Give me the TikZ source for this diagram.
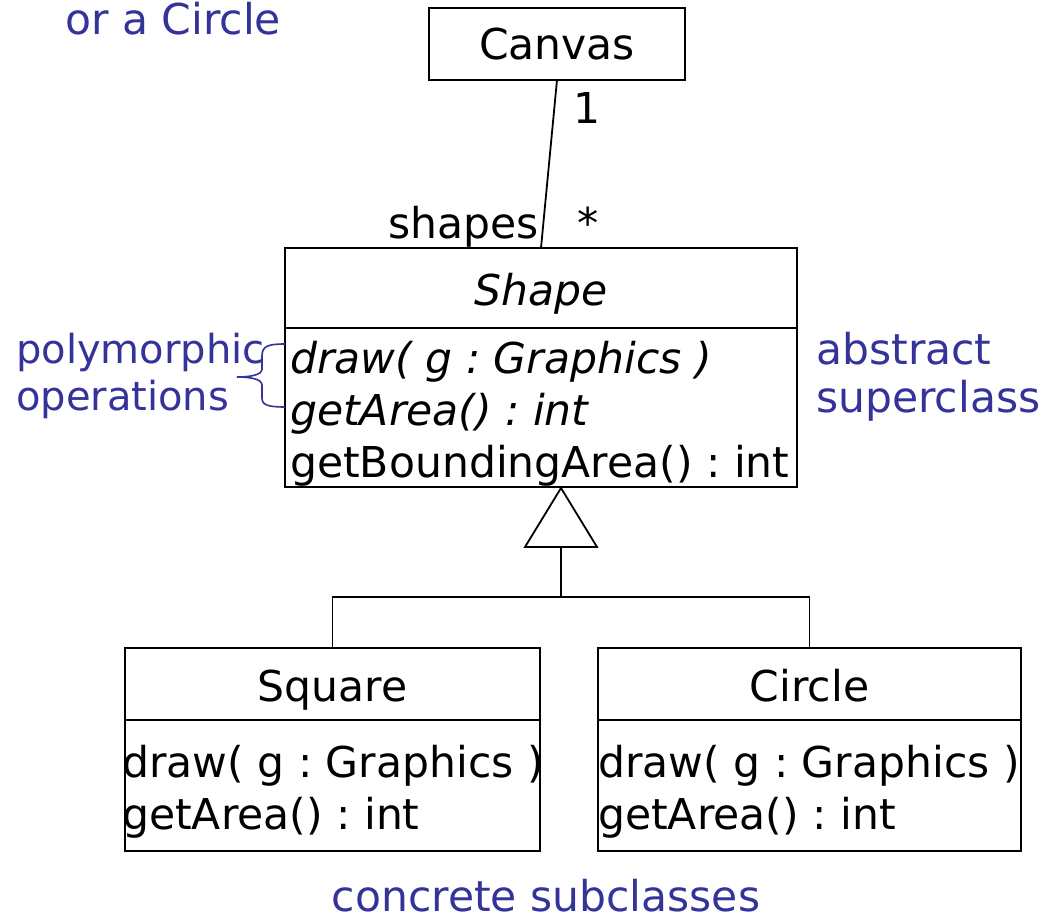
\documentclass[tikz,border=0pt]{standalone}
\usepackage{fontspec}
\setmainfont{DejaVu Sans}
\usepackage{xcolor}
\usepackage{tikz}
\usetikzlibrary{positioning}
\frenchspacing

\definecolor{noteblue}{RGB}{51,51,153}

\tikzset{
  classbox/.style={draw, line width=2pt, inner sep=0pt, outer sep=0pt, fill=white},
  umltext/.style={inner sep=0pt, font=\fontsize{42.5}{52}\selectfont},
  abstracttext/.style={inner sep=0pt, font=\fontsize{42.5}{52}\selectfont\itshape},
  notetext/.style={umltext, text=noteblue},
  smallnote/.style={inner sep=0pt, font=\fontsize{40}{48}\selectfont, text=noteblue},
  link/.style={line width=1.8pt},
  brace/.style={noteblue, line width=1.6pt},
}

\begin{document}
\begin{tikzpicture}[x=1pt,y=-1pt]
\useasboundingbox (0,0) rectangle (1046,920);

% classes
\node[classbox, minimum width=256, minimum height=72] (canvas) at (557,44) {};
\node[classbox, minimum width=512, minimum height=80] (shapehead) at (541,288) {};
\node[classbox, minimum width=512, minimum height=159, below=0pt of shapehead] (shapebody) {};
\node[classbox, minimum width=415, minimum height=72] (squarehead) at (332.5,684) {};
\node[classbox, minimum width=415, minimum height=131, below=0pt of squarehead] (squarebody) {};
\node[classbox, minimum width=423, minimum height=72] (circlehead) at (809.5,684) {};
\node[classbox, minimum width=423, minimum height=131, below=0pt of circlehead] (circlebody) {};

\node[umltext, anchor=base] (canvasname) at (557,60) {Canvas};
\node[abstracttext, anchor=base] (shapename) at (541,305) {Shape};
\node[abstracttext, anchor=base west] (shapeop1) at (290,373) {draw( g : Graphics )};
\node[abstracttext, anchor=base west] (shapeop2) at (290,425) {getArea() : int};
\node[umltext, anchor=base west] (shapeop3) at (290,477) {getBoundingArea() : int};

\node[umltext, anchor=base] (squarename) at (332.5,701) {Square};
\node[umltext, anchor=base west] (squareop1) at (122,777) {draw( g : Graphics )};
\node[umltext, anchor=base west] (squareop2) at (122,829) {getArea() : int};

\node[umltext, anchor=base] (circlename) at (809.5,701) {Circle};
\node[umltext, anchor=base west] (circleop1) at (598,777) {draw( g : Graphics )};
\node[umltext, anchor=base west] (circleop2) at (598,829) {getArea() : int};

% association
\draw[link] (canvas.south) -- (shapehead.north);
\node[umltext, anchor=base] (multone) at (587,124) {1};
\node[umltext, anchor=base] (multmany) at (588,238) {*};
\node[umltext, anchor=base east] (rolename) at (539,238) {shapes};

% generalization
\coordinate (apex) at (561,488);
\coordinate (joint) at (561,597);
\draw[link, fill=white] (apex) -- ++(-36,59) coordinate (tribase) -- ++(72,0) -- cycle;
\draw[link] (apex |- tribase) -- (joint);
\draw[link] (squarehead.north) |- (joint) -| (circlehead.north);

% notes
\node[notetext, anchor=base west] (topnote) at (65,35) {or a Circle};
\node[smallnote, anchor=base west] (polynote1) at (16,363) {polymorphic};
\node[smallnote, anchor=base west] (polynote2) at (16,410) {operations};
\node[notetext, anchor=base west] (absnote1) at (816,364) {abstract};
\node[notetext, anchor=base west] (absnote2) at (816,412) {superclass};
\node[notetext, anchor=base] (subnote) at (546,911) {concrete subclasses};

\draw[brace] (285,344) .. controls (268,344) and (262,346) .. (262,356) -- (262,369)
  .. controls (262,375) and (250,377) .. (237,377);
\draw[brace] (237,377) .. controls (250,377) and (262,379) .. (262,385) -- (262,398)
  .. controls (262,405) and (268,407) .. (285,407);
\end{tikzpicture}
\end{document}
